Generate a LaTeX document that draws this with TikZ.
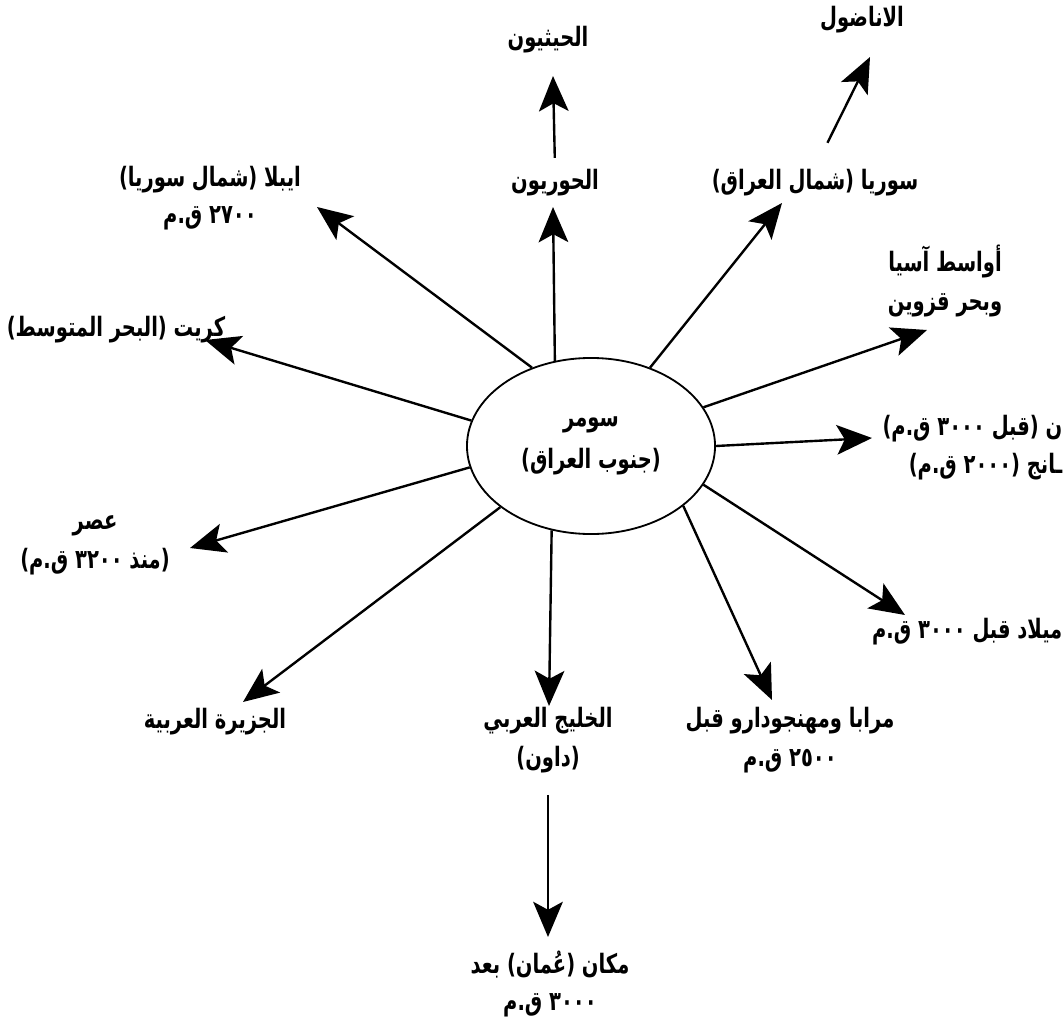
\documentclass[tikz,border=0pt]{standalone}
\usepackage{fontspec}
\usepackage{tikz}
\usetikzlibrary{arrows.meta,shapes.geometric}
\TeXXeTstate=1
\newfontfamily\arabicfont[Script=Arabic,FakeStretch=0.73]{DejaVu Sans}
\newcommand{\ar}[1]{{\arabicfont\bfseries\beginR #1\endR}}

\begin{document}
\begin{tikzpicture}[x=0.025cm,y=-0.025cm,
	lbl/.style={align=center,inner sep=1pt,font=\fontsize{19}{22}\selectfont},
	arr/.style={line width=1.7pt,-{Stealth[length=0.88cm,width=0.74cm,inset=0.2cm]}}]
\useasboundingbox (0,0) rectangle (1063,1017);
\node [ellipse, draw, line width=1.3pt, minimum width=6.2cm, minimum height=4.4cm, lbl] (z) at (591,446) {\ar{سومر}\\[8pt]\ar{(جنوب العراق)}};
\node [lbl] (h) at (555,183) {\ar{الحوريون}};
\node [lbl] (t) at (548,40) {\ar{الحيثيون}};
\node [lbl] (y) at (815,183) {\ar{سوريا (شمال العراق)}};
\node [lbl] (n) at (862,20) {\ar{الاناضول}};
\node [lbl] (e) at (210,198) {\ar{ايبلا (شمال سوريا)}\\[4pt]\ar{٢٧٠٠ ق.م}};
\node [lbl] (q) at (945,281) {\ar{أواسط آسيا}\\[6pt]\ar{وبحر قزوين}};
\node [lbl] (k) at (116,330) {\ar{كريت (البحر المتوسط)}};
\node [lbl, align=right, anchor=east] (c) at (1064,448) {\ar{ن (قبل ٣٠٠٠ ق.م)}\\[5pt]\ar{ـانج (٢٠٠٠ ق.م)}};
\node [lbl] (m) at (95,545) {\ar{عصر}\\[6pt]\ar{(منذ ٣٢٠٠ ق.م)}};
\node [lbl, anchor=east] (l) at (1064,632) {\ar{ميلاد قبل ٣٠٠٠ ق.م}};
\node [lbl] (j) at (215,722) {\ar{الجزيرة العربية}};
\node [lbl] (g) at (548,740) {\ar{الخليج العربي}\\[6pt]\ar{(داون)}};
\node [lbl] (p) at (790,740) {\ar{مرابا ومهنجودارو قبل}\\[6pt]\ar{٢٥٠٠ ق.م}};
\node [lbl] (o) at (550,984) {\ar{مكان (عُمان) بعد}\\[4pt]\ar{٣٠٠٠ ق.م}};
\coordinate (th) at (553,207);
\coordinate (tt) at (553,76);
\coordinate (ty) at (782,203);
\coordinate (tn) at (870,57);
\coordinate (te) at (317,207);
\coordinate (tk) at (205,340);
\coordinate (tm) at (190,548);
\coordinate (tj) at (243,702);
\coordinate (tg) at (549,706);
\coordinate (tp) at (772,700);
\coordinate (tl) at (905,615);
\coordinate (tc) at (872,438);
\coordinate (tq) at (927,330);
\coordinate (to) at (548,937);
\draw[arr] (z.113) -- (th);
\draw[arr] (z.53) -- (ty);
\draw[arr] (z.127) -- (te);
\draw[arr] (z.168) -- (tk);
\draw[arr] (z.190) -- (tm);
\draw[arr] (z.214) -- (tj);
\draw[arr] (z.245) -- (tg);
\draw[arr] (z.327) -- (tp);
\draw[arr] (z.341) -- (tl);
\draw[arr] (z.0) -- (tc);
\draw[arr] (z.19) -- (tq);
\draw[arr,shorten <=0.25cm] (h.north) -- (tt);
\draw[arr,shorten <=0.7cm] (y.north) -- (tn);
\draw[arr,shorten <=0.5cm] (g.south) -- (to);
\end{tikzpicture}
\end{document}
